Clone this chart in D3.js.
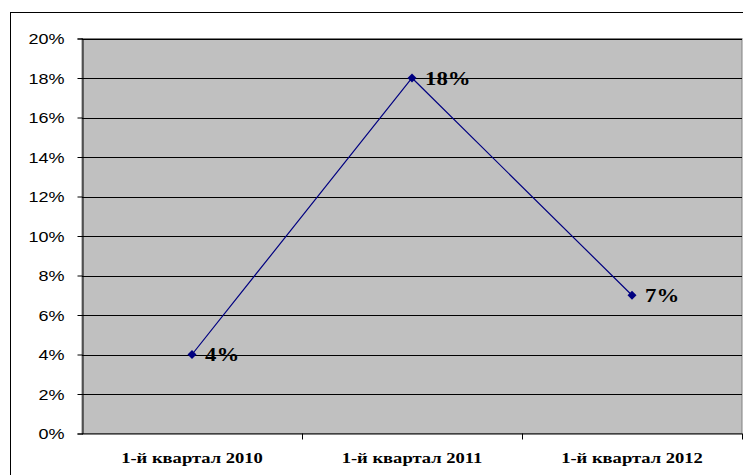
<!DOCTYPE html>
<html><head><meta charset="utf-8">
<script src="https://cdn.jsdelivr.net/npm/d3@7"></script>
<style>body{margin:0;background:#fff}</style>
</head><body>
<svg id="c" width="743" height="475"></svg>
<script>
const categories = ["1-й квартал 2010", "1-й квартал 2011", "1-й квартал 2012"];
const values = [0.04, 0.18, 0.07];
const labels = ["4%", "18%", "7%"];
const yTicks = [0, 0.02, 0.04, 0.06, 0.08, 0.10, 0.12, 0.14, 0.16, 0.18, 0.20];

const svg = d3.select("#c");
const L = 82, R = 742, T = 38.5, B = 433.5;
const SX = 1.2;
const SERIF = "'Liberation Serif', 'Times New Roman', serif";

// outer frame
svg.append("rect").attr("x", 10.5).attr("y", 12.5).attr("width", 800).attr("height", 500)
  .attr("fill", "#fff").attr("stroke", "#000").attr("stroke-width", 1);

const x = d3.scaleBand().domain(categories).range([L, R]).padding(0);
const y = d3.scaleLinear().domain([0, 0.20]).range([B, T]);

svg.append("rect").attr("x", L).attr("y", T).attr("width", R - L).attr("height", B - T)
  .attr("fill", "#c0c0c0").attr("stroke", "#808080").attr("stroke-width", 1);

// gridlines
svg.append("g").selectAll("line").data(yTicks.slice(1)).join("line")
  .attr("x1", L).attr("x2", R).attr("y1", d => Math.round(y(d)) + 0.5).attr("y2", d => Math.round(y(d)) + 0.5)
  .attr("stroke", "#000").attr("stroke-width", 1);

// y axis
const yAxis = svg.append("g").attr("transform", `translate(${L + 0.5},0)`)
  .call(d3.axisLeft(y).tickValues(yTicks).tickFormat(d3.format(".0%")).tickSize(5).tickPadding(0));
yAxis.select(".domain").attr("stroke", "#000");
yAxis.selectAll(".tick line").attr("stroke", "#000");
yAxis.selectAll(".tick text").text(null);
yAxis.selectAll(".tick").each(function(d) {
  d3.select(this).append("text")
    .attr("transform", `translate(-18,0) scale(${SX},1)`)
    .attr("text-anchor", "end").attr("dy", "0.36em")
    .attr("font-family", "'Liberation Sans', Arial, sans-serif").attr("font-size", 15)
    .attr("fill", "#000").text(d3.format(".0%")(d));
});

// x axis
const xAxis = svg.append("g").attr("transform", `translate(0,${B})`)
  .call(d3.axisBottom(x).tickSize(0).tickFormat(""));
xAxis.select(".domain").attr("stroke", "#000").attr("d", `M${L},0.5H${R}`);
svg.append("g").selectAll("line").data(categories).join("line")
  .attr("x1", d => Math.round(x(d) + x.bandwidth())+0.5).attr("x2", d => Math.round(x(d) + x.bandwidth())+0.5)
  .attr("y1", B).attr("y2", B + 6).attr("stroke", "#000");
svg.append("g").selectAll("text").data(categories).join("text")
  .attr("transform", d => `translate(${x(d) + x.bandwidth() / 2},${B + 24}) scale(1.28,1)`)
  .attr("text-anchor", "middle").attr("dy", "0.35em")
  .attr("font-family", SERIF).attr("font-weight", "bold")
  .attr("font-size", 14.5).attr("fill", "#000").text(d => d);

// line
const cx = d => x(d) + x.bandwidth() / 2;
const data = categories.map((c, i) => ({c, v: values[i], l: labels[i]}));
svg.append("path").datum(data)
  .attr("d", d3.line().x(d => cx(d.c)).y(d => y(d.v)))
  .attr("fill", "none").attr("stroke", "#000080").attr("stroke-width", 1.2);
svg.append("g").selectAll("path").data(data).join("path")
  .attr("transform", d => `translate(${cx(d.c)},${y(d.v)})`)
  .attr("d", "M0,-4.5L4.5,0L0,4.5L-4.5,0Z").attr("fill", "#000080");
svg.append("g").selectAll("text").data(data).join("text")
  .attr("transform", d => `translate(${cx(d.c) + 13},${y(d.v)}) scale(1.2,1)`)
  .attr("dy", "0.35em")
  .attr("font-family", SERIF).attr("font-weight", "bold")
  .attr("font-size", 19).attr("fill", "#000").text(d => d.l);
</script>
</body></html>
